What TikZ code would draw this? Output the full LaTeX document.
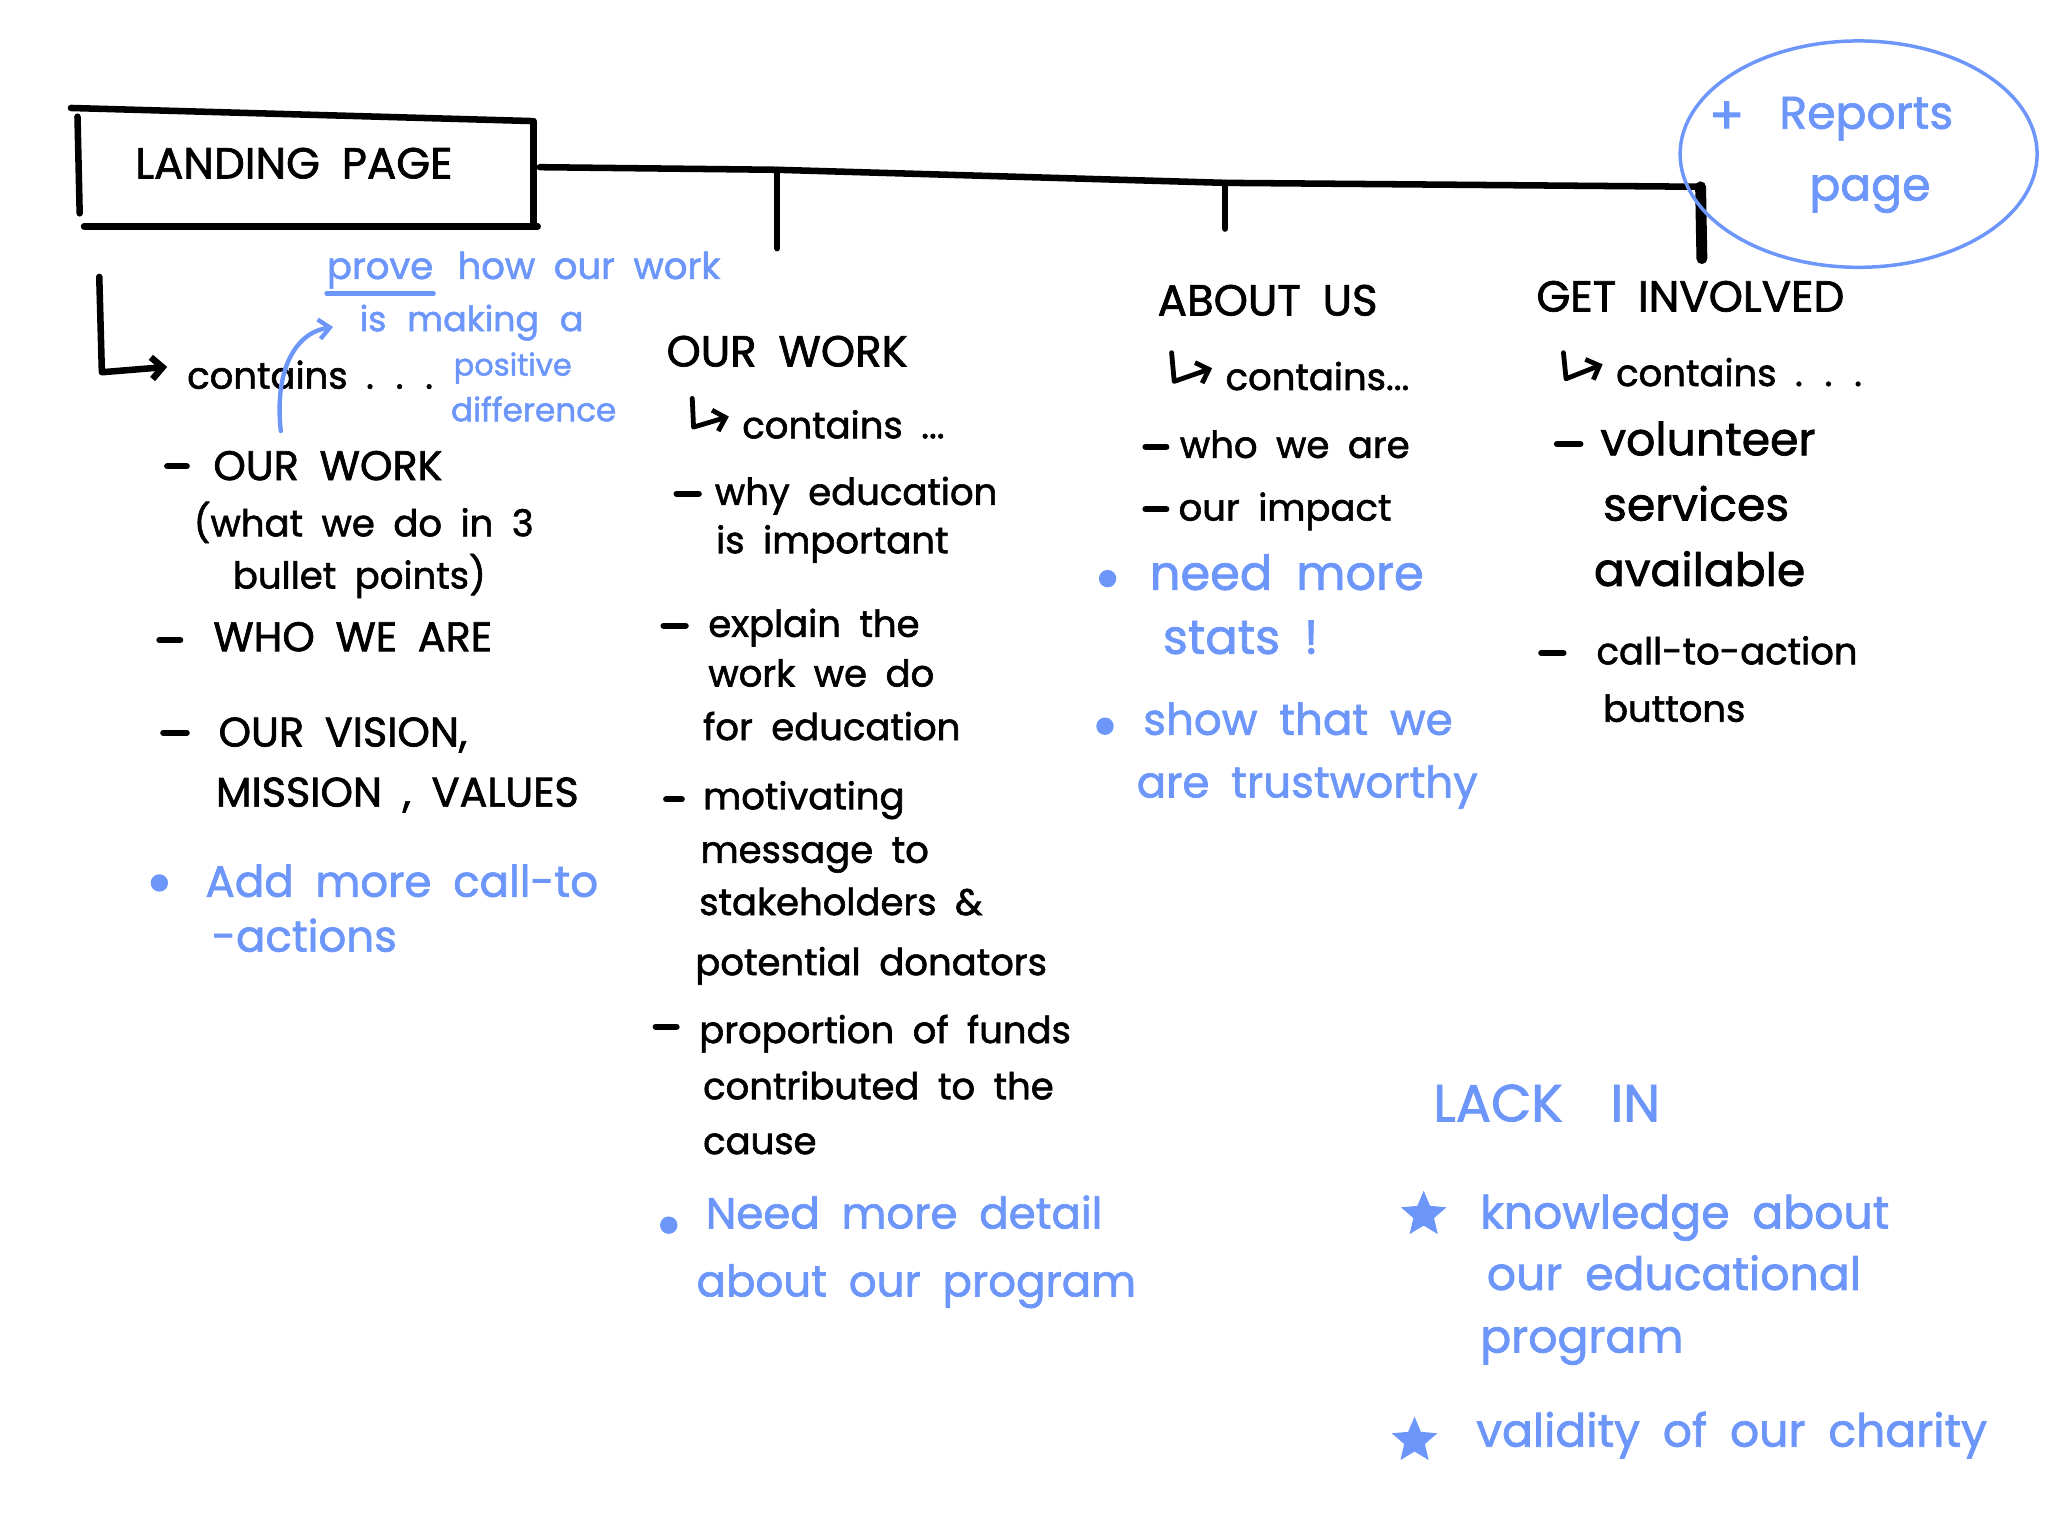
\documentclass[tikz,border=0pt]{standalone}
\usepackage{fontspec}
\setmainfont{Poppins}[FakeBold=1.6]
\usetikzlibrary{arrows.meta,shapes.geometric}
\definecolor{skblue}{RGB}{108,150,250}
\newcommand{\wsp}{\spaceskip 0.5em\relax}
\begin{document}
\begin{tikzpicture}[x=0.6pt,y=-0.6pt,
  ink/.style={line width=3pt,line cap=round,line join=round},
  dashl/.style={line width=2.8pt,line cap=round},
  hookarr/.style={line width=2.2pt,line cap=round,line join=round,-{Straight Barb[length=5pt,width=10pt]}},
  bink/.style={draw=skblue,line width=2pt,line cap=round},
  txt/.style={anchor=mid west,inner sep=0pt,yshift=-3.6pt,font=\fontsize{17}{20}\selectfont\wsp},
  capt/.style={txt,font=\fontsize{19}{22}\selectfont\wsp},
  head/.style={txt,font=\fontsize{20}{24}\selectfont\wsp},
  btxt/.style={txt,text=skblue,font=\fontsize{20}{24}\selectfont\wsp},
  bsmall/.style={txt,text=skblue,font=\fontsize{17}{20}\selectfont\wsp},
  bdot/.style={circle,fill=skblue,inner sep=0pt,minimum size=8pt},
  bstar/.style={star,star points=5,star point ratio=2.2,fill=skblue,inner sep=0pt,minimum size=22pt}
]
\useasboundingbox (0,0) rectangle (1568,1176);

% ---------- Landing page box ----------
\node (lpbox) at (233,128) [minimum width=210pt,minimum height=52pt,inner sep=0pt] {};
\node[head,anchor=center] (lp) at (225,119) {LANDING PAGE};
\draw[ink] ([xshift=-2pt,yshift=1pt]lpbox.north west) -- ([xshift=-1pt,yshift=-5pt]lpbox.north east);
\draw[ink] ([xshift=1pt,yshift=-3pt]lpbox.north west) -- ([xshift=2pt,yshift=5pt]lpbox.south west);
\draw[ink] ([yshift=-5pt]lpbox.north east) -- (lpbox.south east);
\draw[ink] ([xshift=4pt,yshift=-1pt]lpbox.south west) -- ([xshift=2pt,yshift=-1pt]lpbox.south east);

% ---------- top bar ----------
\coordinate (b1) at (595,130);
\coordinate (b2) at (938,140);
\coordinate (b3) at (1302,143);
\coordinate (d1) at (595,190);
\coordinate (d2) at (938,175);
\coordinate (d3) at (1303,198);
\draw[ink] ([xshift=3pt]lpbox.east) -- (b1) -- (b2) -- (b3);
\draw[ink] (b1) -- (d1);
\draw[ink] (b2) -- (d2);
\draw[ink,line width=5pt] (b3) -- (d3);

% ---------- Reports page ellipse ----------
\node (rep) at (1423,118) [ellipse,minimum width=164pt,minimum height=103pt,inner sep=0pt] {};
\draw[bink,line width=1.6pt] (1423,118) ellipse [x radius=82pt,y radius=52pt];
\node[btxt,font=\fontsize{24}{26}\selectfont] (plus) at (1308,92) {+};
\node[btxt,font=\fontsize{21}{24}\selectfont] (repa) at (1362,88) {Reports};
\node[btxt,font=\fontsize{21}{24}\selectfont] (repb) at (1385,143) {page};

% ---------- Left column ----------
\node[txt] (lc) at (143,287) {contains . . .};
\draw[hookarr,line width=3pt] (76,212) -- (78,285) -- ([xshift=-9pt,yshift=3.6pt]lc.west);

\node[bsmall] (prove) at (250,203) {prove};
\node[bsmall] (pr2) at (350,203) {how our work};
\draw[bink] ([yshift=-2pt]prove.south west) -- ([yshift=-2pt]prove.south east);
\node[bsmall,font=\fontsize{16}{20}\selectfont\spaceskip 0.6em\relax] (mak) at (275,243) {is making a};
\node[bsmall,font=\fontsize{14}{18}\selectfont] (pos) at (347,277) {positive};
\node[bsmall,font=\fontsize{15}{18}\selectfont] (dif) at (345,312) {difference};
\coordinate (ba) at (215,330);
\draw[bink,-{Straight Barb[length=5pt,width=9pt]}] (ba) .. controls (210,285) and (225,255) .. ([xshift=-12pt,yshift=-2pt]mak.west);

\draw[dashl] (128,357) -- (143,357);
\node[capt] (l1) at (163,357) {OUR WORK};
\node[txt] (l1b) at (148,400) {(what we do in 3};
\node[txt] (l1c) at (178,440) {bullet points)};
\draw[dashl] (122,490) -- (138,490);
\node[capt] (l2) at (163,488) {WHO WE ARE};
\draw[dashl] (125,561) -- (143,561);
\node[capt] (l3) at (167,561) {OUR VISION,};
\node[capt] (l3b) at (165,607) {MISSION , VALUES};
\node[bdot] (ld) at (122,676) {};
\node[btxt] (l4) at (157,676) {Add more call-to};
\node[btxt] (l4b) at (162,718) {-actions};

% ---------- Our work column ----------
\node[head] (ow) at (510,270) {OUR WORK};
\node[txt] (owc) at (568,325) {contains ...};
\draw[hookarr] (530,305) -- (531,327) -- ([xshift=-6pt,yshift=3.6pt]owc.west);
\draw[dashl] (518,378) -- (535,378);
\node[txt] (o1) at (547,376) {why education};
\node[txt] (o1b) at (548,413) {is important};
\draw[dashl] (508,479) -- (525,479);
\node[txt] (o2) at (542,477) {explain the};
\node[txt] (o2b) at (542,515) {work we do};
\node[txt] (o2c) at (538,556) {for education};
\draw[dashl] (510,612) -- (522,612);
\node[txt] (o3) at (538,609) {motivating};
\node[txt] (o3b) at (536,650) {message to};
\node[txt] (o3c) at (535,690) {stakeholders \&};
\node[txt] (o3d) at (532,736) {potential donators};
\draw[dashl] (502,786) -- (518,786);
\node[txt] (o4) at (535,788) {proportion of funds};
\node[txt] (o4b) at (538,831) {contributed to the};
\node[txt] (o4c) at (538,873) {cause};
\node[bdot] (od) at (512,938) {};
\node[btxt] (o5) at (540,930) {Need more detail};
\node[btxt] (o5b) at (533,982) {about our program};

% ---------- About us column ----------
\node[head] (au) at (886,231) {ABOUT US};
\node[txt] (auc) at (938,288) {contains...};
\draw[hookarr] (897,270) -- (899,292) -- ([xshift=-6pt,yshift=3.6pt]auc.west);
\draw[dashl] (877,342) -- (893,342);
\node[txt] (a1) at (903,340) {who we are};
\draw[dashl] (877,390) -- (893,390);
\node[txt] (a2) at (902,388) {our impact};
\node[bdot] (ad1) at (848,443) {};
\node[btxt,font=\fontsize{22}{26}\selectfont\wsp] (a3) at (880,441) {need more};
\node[btxt,font=\fontsize{22}{26}\selectfont\wsp] (a3b) at (890,490) {stats !};
\node[bdot] (ad2) at (846,556) {};
\node[btxt] (a4) at (875,552) {show that we};
\node[btxt] (a4b) at (870,600) {are trustworthy};

% ---------- Get involved column ----------
\node[head] (gi) at (1176,228) {GET INVOLVED};
\node[txt] (gic) at (1237,285) {contains . . .};
\draw[hookarr] (1197,270) -- (1199,290) -- ([xshift=-6pt,yshift=3.6pt]gic.west);
\draw[dashl] (1192,340) -- (1210,340);
\node[txt,font=\fontsize{21}{24}\selectfont] (g1) at (1225,338) {volunteer};
\node[txt,font=\fontsize{21}{24}\selectfont] (g1b) at (1227,388) {services};
\node[txt,font=\fontsize{21}{24}\selectfont] (g1c) at (1220,438) {available};
\draw[dashl] (1180,500) -- (1197,500);
\node[txt] (g2) at (1222,498) {call-to-action};
\node[txt] (g2b) at (1227,542) {buttons};

% ---------- Lack in ----------
\node[btxt,font=\fontsize{24}{26}\selectfont] (li) at (1097,848) {LACK\hspace{22pt}IN};
\node[bstar] (s1) at (1090,930) {};
\node[btxt,font=\fontsize{21}{24}\selectfont\wsp] (k1) at (1133,930) {knowledge about};
\node[btxt,font=\fontsize{21}{24}\selectfont\wsp] (k1b) at (1138,977) {our educational};
\node[btxt,font=\fontsize{21}{24}\selectfont] (k1c) at (1133,1025) {program};
\node[bstar] (s2) at (1083,1103) {};
\node[btxt,font=\fontsize{21}{24}\selectfont\wsp] (k2) at (1130,1097) {validity of our charity};
\end{tikzpicture}
\end{document}
